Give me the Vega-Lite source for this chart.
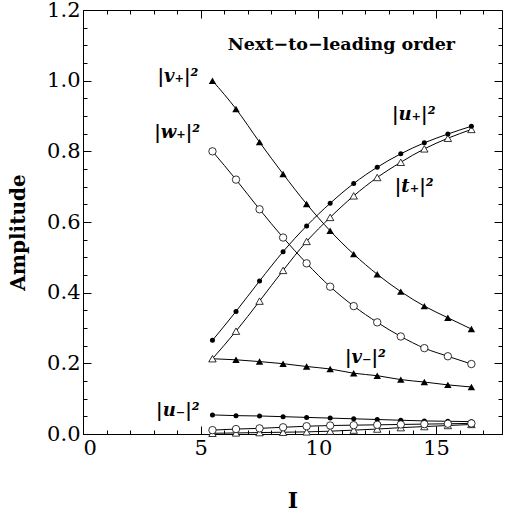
{
  "$schema": "https://vega.github.io/schema/vega-lite/v6.json",
  "width": 419,
  "height": 424,
  "autosize": {"type": "none"},
  "padding": {"left": 83, "top": 10, "right": 3, "bottom": 82},
  "background": "white",
  "config": {
    "view": {"stroke": "black", "strokeWidth": 1},
    "axis": {"grid": false, "domainColor": "black", "tickColor": "black", "labelColor": "black", "titleColor": "black", "labelFont": "DejaVu Serif", "titleFont": "DejaVu Serif", "labelFontSize": 21, "titleFontSize": 20, "labelFontWeight": "normal", "titleFontWeight": "bold", "tickWidth": 1, "domainWidth": 1}
  },
  "datasets": {
    "pts": [
      {"x": 5.5, "y": 1.0, "s": "v+"}, {"x": 6.5, "y": 0.92, "s": "v+"}, {"x": 7.5, "y": 0.826, "s": "v+"}, {"x": 8.5, "y": 0.736, "s": "v+"}, {"x": 9.5, "y": 0.651, "s": "v+"}, {"x": 10.5, "y": 0.575, "s": "v+"}, {"x": 11.5, "y": 0.509, "s": "v+"}, {"x": 12.5, "y": 0.452, "s": "v+"}, {"x": 13.5, "y": 0.403, "s": "v+"}, {"x": 14.5, "y": 0.362, "s": "v+"}, {"x": 15.5, "y": 0.329, "s": "v+"}, {"x": 16.5, "y": 0.297, "s": "v+"},
      {"x": 5.5, "y": 0.8, "s": "w+"}, {"x": 6.5, "y": 0.72, "s": "w+"}, {"x": 7.5, "y": 0.636, "s": "w+"}, {"x": 8.5, "y": 0.556, "s": "w+"}, {"x": 9.5, "y": 0.483, "s": "w+"}, {"x": 10.5, "y": 0.417, "s": "w+"}, {"x": 11.5, "y": 0.362, "s": "w+"}, {"x": 12.5, "y": 0.316, "s": "w+"}, {"x": 13.5, "y": 0.276, "s": "w+"}, {"x": 14.5, "y": 0.243, "s": "w+"}, {"x": 15.5, "y": 0.22, "s": "w+"}, {"x": 16.5, "y": 0.198, "s": "w+"},
      {"x": 5.5, "y": 0.265, "s": "u+"}, {"x": 6.5, "y": 0.347, "s": "u+"}, {"x": 7.5, "y": 0.433, "s": "u+"}, {"x": 8.5, "y": 0.516, "s": "u+"}, {"x": 9.5, "y": 0.589, "s": "u+"}, {"x": 10.5, "y": 0.653, "s": "u+"}, {"x": 11.5, "y": 0.709, "s": "u+"}, {"x": 12.5, "y": 0.755, "s": "u+"}, {"x": 13.5, "y": 0.793, "s": "u+"}, {"x": 14.5, "y": 0.824, "s": "u+"}, {"x": 15.5, "y": 0.849, "s": "u+"}, {"x": 16.5, "y": 0.871, "s": "u+"},
      {"x": 5.5, "y": 0.213, "s": "t+"}, {"x": 6.5, "y": 0.291, "s": "t+"}, {"x": 7.5, "y": 0.376, "s": "t+"}, {"x": 8.5, "y": 0.463, "s": "t+"}, {"x": 9.5, "y": 0.545, "s": "t+"}, {"x": 10.5, "y": 0.613, "s": "t+"}, {"x": 11.5, "y": 0.674, "s": "t+"}, {"x": 12.5, "y": 0.726, "s": "t+"}, {"x": 13.5, "y": 0.769, "s": "t+"}, {"x": 14.5, "y": 0.807, "s": "t+"}, {"x": 15.5, "y": 0.837, "s": "t+"}, {"x": 16.5, "y": 0.862, "s": "t+"},
      {"x": 5.5, "y": 0.213, "s": "v-"}, {"x": 6.5, "y": 0.21, "s": "v-"}, {"x": 7.5, "y": 0.205, "s": "v-"}, {"x": 8.5, "y": 0.199, "s": "v-"}, {"x": 9.5, "y": 0.191, "s": "v-"}, {"x": 10.5, "y": 0.184, "s": "v-"}, {"x": 11.5, "y": 0.172, "s": "v-"}, {"x": 12.5, "y": 0.165, "s": "v-"}, {"x": 13.5, "y": 0.154, "s": "v-"}, {"x": 14.5, "y": 0.147, "s": "v-"}, {"x": 15.5, "y": 0.139, "s": "v-"}, {"x": 16.5, "y": 0.133, "s": "v-"},
      {"x": 5.5, "y": 0.054, "s": "u-"}, {"x": 6.5, "y": 0.052, "s": "u-"}, {"x": 7.5, "y": 0.051, "s": "u-"}, {"x": 8.5, "y": 0.049, "s": "u-"}, {"x": 9.5, "y": 0.047, "s": "u-"}, {"x": 10.5, "y": 0.045, "s": "u-"}, {"x": 11.5, "y": 0.043, "s": "u-"}, {"x": 12.5, "y": 0.041, "s": "u-"}, {"x": 13.5, "y": 0.039, "s": "u-"}, {"x": 14.5, "y": 0.037, "s": "u-"}, {"x": 15.5, "y": 0.036, "s": "u-"}, {"x": 16.5, "y": 0.035, "s": "u-"},
      {"x": 5.5, "y": 0.011, "s": "w-"}, {"x": 6.5, "y": 0.014, "s": "w-"}, {"x": 7.5, "y": 0.016, "s": "w-"}, {"x": 8.5, "y": 0.019, "s": "w-"}, {"x": 9.5, "y": 0.022, "s": "w-"}, {"x": 10.5, "y": 0.024, "s": "w-"}, {"x": 11.5, "y": 0.025, "s": "w-"}, {"x": 12.5, "y": 0.026, "s": "w-"}, {"x": 13.5, "y": 0.027, "s": "w-"}, {"x": 14.5, "y": 0.028, "s": "w-"}, {"x": 15.5, "y": 0.029, "s": "w-"}, {"x": 16.5, "y": 0.03, "s": "w-"},
      {"x": 5.5, "y": 0.002, "s": "t-"}, {"x": 6.5, "y": 0.003, "s": "t-"}, {"x": 7.5, "y": 0.004, "s": "t-"}, {"x": 8.5, "y": 0.005, "s": "t-"}, {"x": 9.5, "y": 0.006, "s": "t-"}, {"x": 10.5, "y": 0.008, "s": "t-"}, {"x": 11.5, "y": 0.011, "s": "t-"}, {"x": 12.5, "y": 0.014, "s": "t-"}, {"x": 13.5, "y": 0.018, "s": "t-"}, {"x": 14.5, "y": 0.021, "s": "t-"}, {"x": 15.5, "y": 0.024, "s": "t-"}, {"x": 16.5, "y": 0.027, "s": "t-"}
    ],
    "labels": [
      {"x": 4.03, "y": 1.01, "t": "|v₊|²"},
      {"x": 4.0, "y": 0.853, "t": "|w₊|²"},
      {"x": 14.05, "y": 0.903, "t": "|u₊|²"},
      {"x": 14.07, "y": 0.70, "t": "|t₊|²"},
      {"x": 12.0, "y": 0.215, "t": "|v₋|²"},
      {"x": 4.03, "y": 0.065, "t": "|u₋|²"}
    ],
    "heading": [
      {"x": 10.98, "y": 1.102, "t": "Next−to−leading order"}
    ]
  },
  "resolve": {"axis": {"x": "independent", "y": "independent"}},
  "layer": [
    {
      "data": {"name": "pts"},
      "mark": {"type": "line", "interpolate": "monotone", "color": "black", "strokeWidth": 1},
      "encoding": {
        "x": {"field": "x", "type": "quantitative", "scale": {"domain": [0, 17.8], "nice": false, "zero": false},
          "axis": {"orient": "bottom", "values": [0, 5, 10, 15], "tickSize": -8, "labelPadding": 11, "title": "I", "titleFontSize": 22, "titleY": 66, "titleBaseline": "middle", "domain": true}},
        "y": {"field": "y", "type": "quantitative", "scale": {"domain": [0, 1.2], "nice": false},
          "axis": {"orient": "left", "values": [0, 0.2, 0.4, 0.6, 0.8, 1.0, 1.2], "format": ".1f", "tickSize": -8, "labelPadding": 11, "labelBaseline": "middle", "title": "Amplitude", "titleX": -65, "titleY": 222, "titleAngle": 270, "titleBaseline": "middle", "titleAlign": "center", "domain": true}},
        "detail": {"field": "s"}
      }
    },
    {
      "data": {"name": "pts"},
      "transform": [{"filter": {"field": "s", "oneOf": ["v+", "v-"]}}],
      "mark": {"type": "point", "shape": "triangle-up", "filled": true, "color": "black", "size": 55, "opacity": 1},
      "encoding": {
        "x": {"field": "x", "type": "quantitative", "axis": {"orient": "bottom", "values": [1, 2, 3, 4, 6, 7, 8, 9, 11, 12, 13, 14, 16, 17], "tickSize": -4, "labels": false, "title": null, "domain": false}},
        "y": {"field": "y", "type": "quantitative", "axis": {"orient": "left", "values": [0.05, 0.1, 0.15, 0.25, 0.3, 0.35, 0.45, 0.5, 0.55, 0.65, 0.7, 0.75, 0.85, 0.9, 0.95, 1.05, 1.1, 1.15], "tickSize": -4, "labels": false, "title": null, "domain": false}}
      }
    },
    {
      "data": {"name": "pts"},
      "transform": [{"filter": {"field": "s", "oneOf": ["t+", "t-"]}}],
      "mark": {"type": "point", "shape": "triangle-up", "filled": true, "fill": "white", "stroke": "black", "strokeWidth": 0.8, "size": 55, "opacity": 1},
      "encoding": {
        "x": {"field": "x", "type": "quantitative", "axis": {"orient": "top", "values": [0, 5, 10, 15], "tickSize": -8, "labels": false, "title": null, "domain": false}},
        "y": {"field": "y", "type": "quantitative", "axis": {"orient": "right", "values": [0, 0.2, 0.4, 0.6, 0.8, 1.0, 1.2], "tickSize": -8, "labels": false, "title": null, "domain": false}}
      }
    },
    {
      "data": {"name": "pts"},
      "transform": [{"filter": {"field": "s", "oneOf": ["u+", "u-"]}}],
      "mark": {"type": "point", "shape": "circle", "filled": true, "color": "black", "size": 25, "opacity": 1},
      "encoding": {
        "x": {"field": "x", "type": "quantitative", "axis": {"orient": "top", "values": [1, 2, 3, 4, 6, 7, 8, 9, 11, 12, 13, 14, 16, 17], "tickSize": -4, "labels": false, "title": null, "domain": false}},
        "y": {"field": "y", "type": "quantitative", "axis": {"orient": "right", "values": [0.05, 0.1, 0.15, 0.25, 0.3, 0.35, 0.45, 0.5, 0.55, 0.65, 0.7, 0.75, 0.85, 0.9, 0.95, 1.05, 1.1, 1.15], "tickSize": -4, "labels": false, "title": null, "domain": false}}
      }
    },
    {
      "data": {"name": "pts"},
      "transform": [{"filter": {"field": "s", "oneOf": ["w+", "w-"]}}],
      "mark": {"type": "point", "shape": "circle", "filled": true, "fill": "white", "stroke": "black", "strokeWidth": 0.8, "size": 55, "opacity": 1},
      "encoding": {
        "x": {"field": "x", "type": "quantitative", "axis": null},
        "y": {"field": "y", "type": "quantitative", "axis": null}
      }
    },
    {
      "data": {"name": "labels"},
      "mark": {"type": "text", "font": "DejaVu Serif", "fontSize": 18, "fontWeight": "bold", "fontStyle": "italic", "color": "black", "align": "center", "baseline": "middle"},
      "encoding": {
        "x": {"field": "x", "type": "quantitative", "axis": null},
        "y": {"field": "y", "type": "quantitative", "axis": null},
        "text": {"field": "t"}
      }
    },
    {
      "data": {"name": "heading"},
      "mark": {"type": "text", "font": "DejaVu Serif", "fontSize": 17.5, "fontWeight": "bold", "color": "black", "align": "center", "baseline": "middle"},
      "encoding": {
        "x": {"field": "x", "type": "quantitative", "axis": null},
        "y": {"field": "y", "type": "quantitative", "axis": null},
        "text": {"field": "t"}
      }
    }
  ]
}
